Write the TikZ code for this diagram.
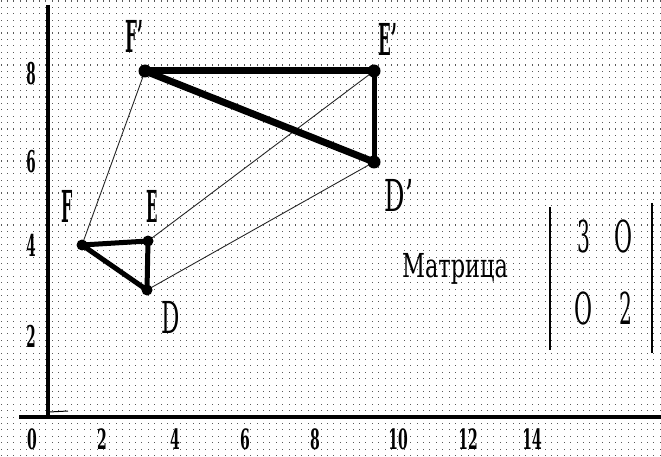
\documentclass[tikz,border=0pt]{standalone}
\usepackage{fontspec}
\setmainfont{DejaVu Serif}
\begin{document}
\begin{tikzpicture}[x=1pt,y=-1pt,
  thinline/.style={line width=0.9pt,black!85},
  thickA/.style={line width=7pt,line cap=round,line join=round},
  thickB/.style={line width=5pt,line cap=round,line join=round},
  axisline/.style={line width=3.5pt},
  lbl/.style={inner sep=0pt,anchor=center,font=\bfseries},
  bar/.style={line width=2pt}]
\useasboundingbox (0,0) rectangle (661,457);
\fill[white] (0,0) rectangle (661,457);
% dot grid
\foreach \i in {0,...,103}{
  \foreach \j in {0,...,71}{
    \fill[black!65] (0.5+\i*6.4,0.5+\j*6.4) rectangle ++(1.1,1.1);
  }
}
% vertices
\coordinate (F) at (82,245);
\coordinate (E) at (148,241);
\coordinate (D) at (147,290);
\coordinate (Fp) at (145,71);
\coordinate (Ep) at (374,71);
\coordinate (Dp) at (374,162);
% thin connectors
\draw[thinline] (F) -- (Fp);
\draw[thinline] (E) -- (Ep);
\draw[thinline] (D) -- (Dp);
% thick figures
\draw[thickA] (Fp) -- (Ep);
\draw[thickA] (Fp) -- (Dp);
\draw[thickB] (Ep) -- (Dp);
\draw[thickB] (F) -- (E) -- (D) -- cycle;
\foreach \p in {Fp,Ep,Dp}{\fill (\p) circle (6.5);}
\foreach \p in {F,E,D}{\fill (\p) circle (5.5);}
% axes
\coordinate (ytop) at (48,5);
\coordinate (o) at (48,417);
\coordinate (xl) at (19,417);
\coordinate (xr) at (661,417);
\draw[axisline] (ytop) -- (o);
\draw[axisline] (xl) -- (xr);
\coordinate (m1) at (49,412);
\coordinate (m2) at (68,411);
\draw[line width=1pt] (m1) -- (m2);
% vertex labels
\node[lbl] (lFp) at (134,36) {\fontsize{44}{44}\selectfont\scalebox{0.38}[1]{F'}};
\node[lbl] (lEp) at (388,39) {\fontsize{44}{44}\selectfont\scalebox{0.38}[1]{E'}};
\node[lbl,font=\mdseries] (lDp) at (399,195) {\fontsize{44}{44}\selectfont\scalebox{0.58}[1]{D'}};
\node[lbl] (lF) at (67,206) {\fontsize{44}{44}\selectfont\scalebox{0.36}[1]{F}};
\node[lbl] (lE) at (152,206) {\fontsize{44}{44}\selectfont\scalebox{0.34}[1]{E}};
\node[lbl,font=\mdseries] (lD) at (171,317) {\fontsize{44}{44}\selectfont\scalebox{0.52}[1]{D}};
% y tick labels
\foreach \v/\yy in {8/74,6/162,4/245,2/336}{
  \node[lbl] (y\v) at (31,\yy) {\fontsize{30}{30}\selectfont\scalebox{0.45}[1]{\v}};
}
% x tick labels
\foreach \v/\xx in {0/32,2/102,4/175,6/245,8/315,10/398,12/468,14/532}{
  \node[lbl] (x\v) at (\xx,439) {\fontsize{28}{28}\selectfont\scalebox{0.5}[1]{\v}};
}
% matrix
\node[inner sep=0pt,anchor=base] (mat) at (455,277) {\fontsize{33}{33}\selectfont\scalebox{0.68}[1]{Матрица}};
\coordinate (lb1) at (550,207);
\coordinate (lb2) at (550,350);
\coordinate (rb1) at (652,203);
\coordinate (rb2) at (652,353);
\draw[bar] (lb1) -- (lb2);
\draw[bar] (rb1) -- (rb2);
\node[lbl,font=\mdseries] (a11) at (584,236) {\fontsize{44}{44}\selectfont\scalebox{0.46}[1]{3}};
\node[lbl,font=\mdseries] (a12) at (624,236) {\fontsize{44}{44}\selectfont\scalebox{0.5}[1]{O}};
\node[lbl,font=\mdseries] (a21) at (584,308) {\fontsize{44}{44}\selectfont\scalebox{0.5}[1]{O}};
\node[lbl,font=\mdseries] (a22) at (626,308) {\fontsize{44}{44}\selectfont\scalebox{0.46}[1]{2}};
\end{tikzpicture}
\end{document}
